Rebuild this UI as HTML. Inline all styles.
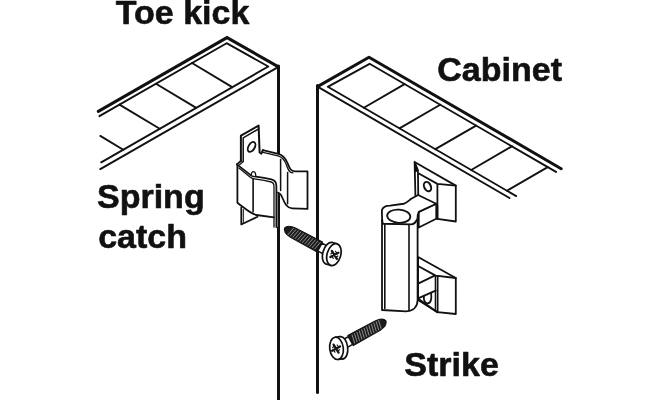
<!DOCTYPE html>
<html><head><meta charset="utf-8"><style>
html,body{margin:0;padding:0;background:#fff;width:660px;height:400px;overflow:hidden}
svg{display:block}
text{font-family:"Liberation Sans",sans-serif;font-weight:bold;fill:#111}
</style></head><body>
<svg width="660" height="400" viewBox="0 0 660 400">
<g fill="none" stroke="#111" stroke-linecap="round" stroke-linejoin="round">
<polyline points="98.30,111.41 227.00,37.60 278.50,66.90" stroke-width="3.0" stroke-linejoin="miter" stroke-linecap="round"/>
<line x1="278.5" y1="65.9" x2="278.5" y2="400" stroke-width="3.0"/>
<polyline points="99.40,116.15 226.60,43.20 268.30,66.50 101.20,162.33" stroke-width="1.9"/>
<line x1="278.5" y1="66.9" x2="100.3" y2="169.10" stroke-width="1.9"/>
<line x1="119.5" y1="104.62" x2="159.73" y2="128.76" stroke-width="1.9"/>
<line x1="156.0" y1="83.69" x2="196.23" y2="107.83" stroke-width="1.9"/>
<line x1="192.0" y1="63.04" x2="232.23" y2="87.18" stroke-width="1.9"/>
<line x1="100.3" y1="135.93" x2="123.23" y2="149.70" stroke-width="1.9"/>
<polyline points="317.50,86.60 369.00,57.20 561.20,168.68" stroke-width="3.0" stroke-linecap="round"/>
<line x1="317.5" y1="85.6" x2="317.5" y2="392.5" stroke-width="3.0"/>
<polyline points="556.00,171.91 369.60,63.80 327.80,86.80 516.20,196.07" stroke-width="1.9"/>
<line x1="317.5" y1="86.6" x2="509.5" y2="197.96" stroke-width="1.9"/>
<line x1="404.6" y1="84.10" x2="363.87" y2="107.72" stroke-width="1.9"/>
<line x1="440.2" y1="104.75" x2="399.47" y2="128.37" stroke-width="1.9"/>
<line x1="476.1" y1="125.57" x2="435.37" y2="149.19" stroke-width="1.9"/>
<line x1="511.9" y1="146.33" x2="471.17" y2="169.96" stroke-width="1.9"/>
<line x1="547.7" y1="167.10" x2="506.97" y2="190.72" stroke-width="1.9"/>
<g stroke-width="1.7" fill="none">
<path d="M240.9,135.6 L258.4,125.6 L260.1,152.5 L262.8,150.2 L278.3,153.8 C283,155 285.5,158 287.5,163 C289.5,168 290.5,171.3 295,171.3 L307.5,171.3 L307.5,208.9 L292,208.3 C287,208 285,204 282.5,198 L277.6,192 L277.6,227 L275,227 L275,217 L258,216.9 L241.25,224.4 L241.25,207 L238.4,202.8 L237.4,164.4 L240.9,161 Z" fill="#fff" stroke="none"/>
<path d="M262.8,150.2 L278.3,153.8 C283,155 285.5,158 287.5,163 C289.5,168 290.5,171.3 295,171.3 L307.5,171.3 L307.5,208.9 L292,208.3 C287,208 285,204 282.5,198 C281.5,195 280.5,193.5 278,192.5" stroke-width="1.8"/>
<path d="M263,152.4 L278,155.8 C282.5,157 284.5,159.7 286.2,164.4 C288,169.2 289,172.8 293,172.9" stroke-width="1.3"/>
<line x1="287.6" y1="172.5" x2="287.6" y2="203.7" stroke-width="1.5"/>
<line x1="280.6" y1="159.5" x2="280.6" y2="190.6" stroke-width="1.5"/>
<path d="M240.9,161 L240.9,135.6 L258.6,125.6 L259.6,152.5 L261.4,153.6 L262.8,150.2" stroke-width="2.0"/>
<path d="M243.2,161.5 L243.2,137.9 L258.7,128.9" stroke-width="1.5"/>
<path d="M240.9,161 L236.9,164.4" stroke-width="1.8"/>
<path d="M243.3,161.5 L239.6,164.8" stroke-width="1.2"/>
<ellipse cx="251.6" cy="146.9" rx="3.1" ry="5.4" transform="rotate(30 251.6 146.9)" stroke-width="1.9"/>
<path d="M236.9,164.4 L249.75,174.4 C251.5,175.6 252.5,176.1 254.25,176.4 L264,177.8 L271.4,179.4 C274.8,180.2 276.4,182.5 276.4,186 L276.4,227" stroke-width="1.8"/>
<path d="M239,167.9 L250,176.9 C251.6,178.1 252.6,178.6 254.3,178.9 L264,180.4 L271.2,182.0 C273.4,182.6 274.0,184 274.0,186.5 L274.0,227" stroke-width="1.3"/>
<path d="M237.4,164.6 L237.4,202.8 C240,205 242,206.5 245,208.5 C249,211.5 252,213.8 256.3,215 L274.0,217.4" stroke-width="1.8"/>
<line x1="253.1" y1="178.6" x2="253.1" y2="211.8" stroke-width="1.6"/>
<path d="M251.4,175.2 C251.2,172.8 252.2,171.6 253.5,171.6 C254.8,171.6 255.6,172.8 255.8,176" fill="#fff" stroke-width="1.3"/>
<path d="M241.25,207.5 L241.25,224.4 L257.5,216.8" stroke-width="1.7"/>
<line x1="243.3" y1="209.5" x2="243.3" y2="222.8" stroke-width="1.1"/>
</g>
<g stroke-width="1.8" fill="#fff">
<path d="M414.6,162 L455.8,185.6 L455.8,221.5 L437.4,218.9 L437.4,205.8 L415.5,198.8 Z"/>
<path d="M414.8,162.5 L417.9,170 L418.3,196 M417.9,173 L437.4,183.9 L455.8,185.6 M437.4,183.9 L437.4,218.9" fill="none"/>
<path d="M414.6,162 L417.9,170.5 L415.1,172 Z" fill="#111" stroke-width="1"/>
<ellipse cx="427.5" cy="186.6" rx="3.3" ry="4.9" transform="rotate(-25 427.5 186.6)" fill="none" stroke-width="2.0"/>
<path d="M418.1,257 L455.8,278 L455.8,314 L437.4,312.2 L418.1,300 Z"/>
<path d="M418.1,266 L435.6,275.6 L455.8,278 M437.6,276.3 L437.6,312.4 M418.1,283.6 L435.2,275.4 M418.1,298.4 L435.6,290.6 M418.6,299 L437.4,312.2" fill="none"/>
<line x1="435.4" y1="276" x2="435.4" y2="311" stroke-width="1.4"/>
<path d="M423.9,296 C423.4,300.5 425,303.6 427.6,303.4 C430.6,303.2 431.8,299.5 431.2,293.6" fill="none" stroke-width="1.8"/>
<path d="M382,220 L382,310 L406,311.3 C413,311 417.6,307 417.6,300 L417.6,214 Z"/>
<path d="M384.8,222 L384.8,308.5 M409,224 L409,311" fill="none" stroke-width="1.6"/>
<path d="M418.75,211.9 L436.25,203.75 L436.25,218.75 L418.75,227.5 Z"/>
<path d="M381.9,210 C383,207 386,205.6 390,205.6 L403.75,203.75 C407,203 409,200.5 411.25,198.75 L418.1,195 L436.25,203.75 L418.75,211.9 C417.5,214.5 417.5,217 417.5,218.75 C416,222 414,224.4 411.25,224.4 L383,223.75 C382,222 381.9,215 381.9,210 Z"/>
<ellipse cx="398.75" cy="216.2" rx="11.6" ry="6.6" transform="rotate(4 398.75 216.2)" fill="none" stroke-width="1.8"/>
</g>
<g transform="translate(285 228.4) rotate(28.2)">
<path d="M-0.5,0 C0,-2.7 4,-4.9 9,-5.3 L39.5,-5.7 L39.5,5.7 L9,5.3 C4,4.9 0,2.7 -0.5,0 Z" fill="#1c1c1c" stroke="#111" stroke-width="1.1"/>
<line x1="7.40" y1="-4.2" x2="5.60" y2="4.2" stroke="#9a9a9a" stroke-width="0.8"/>
<line x1="10.15" y1="-4.2" x2="8.35" y2="4.2" stroke="#9a9a9a" stroke-width="0.8"/>
<line x1="12.90" y1="-4.2" x2="11.10" y2="4.2" stroke="#9a9a9a" stroke-width="0.8"/>
<line x1="15.65" y1="-4.2" x2="13.85" y2="4.2" stroke="#9a9a9a" stroke-width="0.8"/>
<line x1="18.40" y1="-4.2" x2="16.60" y2="4.2" stroke="#9a9a9a" stroke-width="0.8"/>
<line x1="21.15" y1="-4.2" x2="19.35" y2="4.2" stroke="#9a9a9a" stroke-width="0.8"/>
<line x1="23.90" y1="-4.2" x2="22.10" y2="4.2" stroke="#9a9a9a" stroke-width="0.8"/>
<line x1="26.65" y1="-4.2" x2="24.85" y2="4.2" stroke="#9a9a9a" stroke-width="0.8"/>
<line x1="29.40" y1="-4.2" x2="27.60" y2="4.2" stroke="#9a9a9a" stroke-width="0.8"/>
<line x1="32.15" y1="-4.2" x2="30.35" y2="4.2" stroke="#9a9a9a" stroke-width="0.8"/>
<line x1="34.90" y1="-4.2" x2="33.10" y2="4.2" stroke="#9a9a9a" stroke-width="0.8"/>
<line x1="37.65" y1="-4.2" x2="35.85" y2="4.2" stroke="#9a9a9a" stroke-width="0.8"/>
<path d="M39.5,-4.4 L50.5,-4.6 L50.5,4.6 L39.5,4.4 Z" fill="#fff" stroke="#111" stroke-width="1.5"/>
<g transform="rotate(-12 55.5 0)">
<ellipse cx="50.5" cy="0" rx="6.2" ry="11.2" fill="#fff" stroke="#111" stroke-width="1.7"/>
<rect x="50.5" y="-11.2" width="5" height="22.4" fill="#fff" stroke="none"/>
<line x1="50.5" y1="-11.2" x2="55.5" y2="-11.2" stroke="#111" stroke-width="1.7"/>
<line x1="50.5" y1="11.2" x2="55.5" y2="11.2" stroke="#111" stroke-width="1.7"/>
<ellipse cx="55.5" cy="0" rx="6.8" ry="11.2" fill="#fff" stroke="#111" stroke-width="1.7"/>
</g>
<g transform="rotate(-28.2 56.0 0)"><path d="M53.5,-4 L58.5,4 M60.0,-2.2 L52.0,2.2" stroke="#151515" stroke-width="2.3"/><path d="M52.6,-1.1 l1.4,-1.4 M59.4,1.1 l-1.4,1.4 M57.1,-3.6 l1.1,1.5 M54.9,3.6 l-1.1,-1.5" stroke="#151515" stroke-width="1.2"/></g>
</g>
<g transform="translate(385.5 321.2) rotate(151)">
<path d="M-0.5,0 C0,-2.7 4,-4.9 9,-5.3 L40,-5.7 L40,5.7 L9,5.3 C4,4.9 0,2.7 -0.5,0 Z" fill="#1c1c1c" stroke="#111" stroke-width="1.1"/>
<line x1="7.40" y1="-4.2" x2="5.60" y2="4.2" stroke="#9a9a9a" stroke-width="0.8"/>
<line x1="10.15" y1="-4.2" x2="8.35" y2="4.2" stroke="#9a9a9a" stroke-width="0.8"/>
<line x1="12.90" y1="-4.2" x2="11.10" y2="4.2" stroke="#9a9a9a" stroke-width="0.8"/>
<line x1="15.65" y1="-4.2" x2="13.85" y2="4.2" stroke="#9a9a9a" stroke-width="0.8"/>
<line x1="18.40" y1="-4.2" x2="16.60" y2="4.2" stroke="#9a9a9a" stroke-width="0.8"/>
<line x1="21.15" y1="-4.2" x2="19.35" y2="4.2" stroke="#9a9a9a" stroke-width="0.8"/>
<line x1="23.90" y1="-4.2" x2="22.10" y2="4.2" stroke="#9a9a9a" stroke-width="0.8"/>
<line x1="26.65" y1="-4.2" x2="24.85" y2="4.2" stroke="#9a9a9a" stroke-width="0.8"/>
<line x1="29.40" y1="-4.2" x2="27.60" y2="4.2" stroke="#9a9a9a" stroke-width="0.8"/>
<line x1="32.15" y1="-4.2" x2="30.35" y2="4.2" stroke="#9a9a9a" stroke-width="0.8"/>
<line x1="34.90" y1="-4.2" x2="33.10" y2="4.2" stroke="#9a9a9a" stroke-width="0.8"/>
<line x1="37.65" y1="-4.2" x2="35.85" y2="4.2" stroke="#9a9a9a" stroke-width="0.8"/>
<path d="M40,-4.4 L51,-4.6 L51,4.6 L40,4.4 Z" fill="#fff" stroke="#111" stroke-width="1.5"/>
<g transform="rotate(22 56 0)">
<ellipse cx="51" cy="0" rx="6.2" ry="11.2" fill="#fff" stroke="#111" stroke-width="1.7"/>
<rect x="51" y="-11.2" width="5" height="22.4" fill="#fff" stroke="none"/>
<line x1="51" y1="-11.2" x2="56" y2="-11.2" stroke="#111" stroke-width="1.7"/>
<line x1="51" y1="11.2" x2="56" y2="11.2" stroke="#111" stroke-width="1.7"/>
<ellipse cx="56" cy="0" rx="6.8" ry="11.2" fill="#fff" stroke="#111" stroke-width="1.7"/>
</g>
<g transform="rotate(-151 56.5 0)"><path d="M54.0,-4 L59.0,4 M60.5,-2.2 L52.5,2.2" stroke="#151515" stroke-width="2.3"/><path d="M53.1,-1.1 l1.4,-1.4 M59.9,1.1 l-1.4,1.4 M57.6,-3.6 l1.1,1.5 M55.4,3.6 l-1.1,-1.5" stroke="#151515" stroke-width="1.2"/></g>
</g>
</g>
<g style="stroke:#111;stroke-width:0.6;stroke-linejoin:round;opacity:0.999">
<text transform="translate(115.8 24.3) scale(1 1.0)" font-size="34">Toe kick</text>
<text transform="translate(437.3 81.0) scale(1 1.0)" font-size="34">Cabinet</text>
<text transform="translate(97 208.2) scale(1 1.0)" font-size="34">Spring</text>
<text transform="translate(98.2 248.4) scale(1 1.0)" font-size="34">catch</text>
<text transform="translate(404.3 375.6) scale(1 1.0)" font-size="34">Strike</text>
</g>
</svg>
</body></html>
